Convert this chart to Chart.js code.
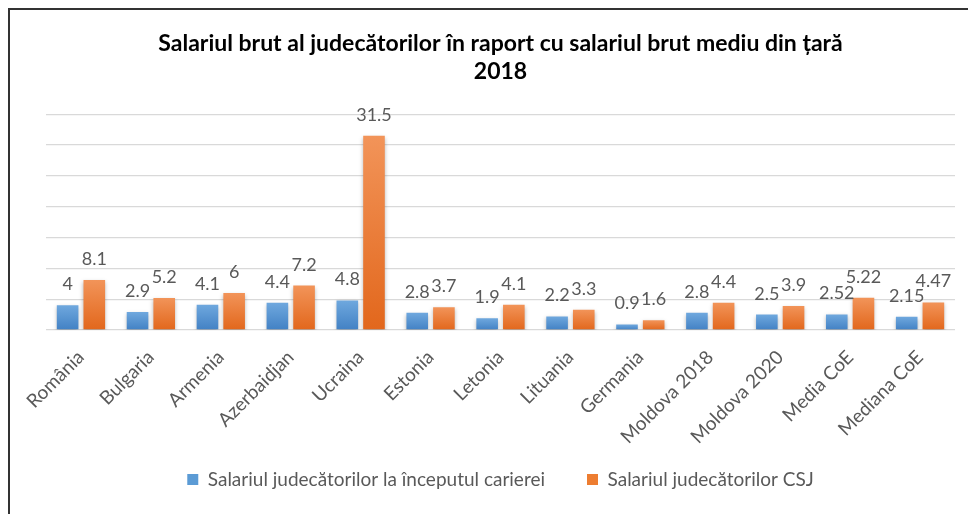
<!DOCTYPE html>
<html>
<head>
<meta charset="utf-8">
<script src="https://cdn.jsdelivr.net/npm/chart.js@4.4.1/dist/chart.umd.min.js"></script>
<style>
  html, body { margin: 0; padding: 0; background: #fff; overflow: hidden; }
  #wrap { position: relative; width: 968px; height: 514px; }
  #frame { position: absolute; left: 8px; top: 8px; width: 980px; height: 520px;
           border-top: 2px solid #333; border-left: 2px solid #333; pointer-events: none; }
  canvas { position: absolute; left: 0; top: 0; }
</style>
</head>
<body>
<div id="wrap">
  <canvas id="salary-chart" width="968" height="514"></canvas>
  <div id="frame"></div>
</div>
<script>

var countries = ["România", "Bulgaria", "Armenia", "Azerbaidjan", "Ucraina", "Estonia", "Letonia",
	"Lituania", "Germania", "Moldova 2018", "Moldova 2020", "Media CoE", "Mediana CoE"];

var startSalary = [4, 2.9, 4.1, 4.4, 4.8, 2.8, 1.9, 2.2, 0.9, 2.8, 2.5, 2.52, 2.15];
var csjSalary   = [8.1, 5.2, 6, 7.2, 31.5, 3.7, 4.1, 3.3, 1.6, 4.4, 3.9, 5.22, 4.47];

var seriesNames = ["Salariul judecătorilor la începutul carierei", "Salariul judecătorilor CSJ"];
var titleLines  = ["Salariul brut al judecătorilor în raport cu salariul brut mediu din țară", "2018"];

var FONT = "Lato";
var GREY = "#595959";

// per bar vertical gradient, lighter on top like the office style
function barGradient(ctx, top, bottom){

	var chart = ctx.chart;
	if (!chart.chartArea || ctx.raw === undefined) return bottom;

	var y  = chart.scales.y;
	var y0 = y.getPixelForValue(ctx.raw);
	var y1 = y.getPixelForValue(0);
	if (!isFinite(y0) || !isFinite(y1) || y0 === y1) return bottom;

	var g = chart.ctx.createLinearGradient(0, y0, 0, y1);
	g.addColorStop(0, top);
	g.addColorStop(1, bottom);
	return g;
}

// the rotated x labels run past the axis box into the legend space, don't clip them
var noLabelClip = {
	id: "noLabelClip",
	afterLayout: function(chart){
		chart.scales.x._computeLabelArea = function(){ return undefined; };
	}
};

var barShadow = {
	id: "barShadow",
	beforeDatasetsDraw: function(chart){
		var c = chart.ctx;
		c.save();
		c.shadowColor = "rgba(0,0,0,0.28)";
		c.shadowBlur = 4;
		c.shadowOffsetY = 2;
	},
	afterDatasetsDraw: function(chart){
		chart.ctx.restore();
	}
};

var valueLabels = {
	id: "valueLabels",
	afterDatasetsDraw: function(chart){
		var c = chart.ctx;
		c.save();
		c.font = "18px " + FONT;
		c.fillStyle = GREY;
		c.textAlign = "center";
		c.textBaseline = "alphabetic";
		chart.data.datasets.forEach(function(ds, i){
			chart.getDatasetMeta(i).data.forEach(function(bar, j){
				c.fillText(String(ds.data[j]), bar.x, bar.y - 15);
			});
		});
		c.restore();
	}
};

var ctx = document.getElementById("salary-chart");
var salaryChart = new Chart(ctx, {
	type: "bar",
	data: {
		labels: countries,
		datasets: [
		{
			label: seriesNames[0],
			data: startSalary,
			backgroundColor: function(c){ return barGradient(c, "#6fa8de", "#4281c4"); },
			borderWidth: 0,
			categoryPercentage: 0.763,
			barPercentage: 0.81
		},
		{
			label: seriesNames[1],
			data: csjSalary,
			backgroundColor: function(c){ return barGradient(c, "#f29459", "#e2671c"); },
			borderWidth: 0,
			categoryPercentage: 0.763,
			barPercentage: 0.81
		}
		]
	},
	plugins: [noLabelClip, barShadow, valueLabels],
	options: {
		responsive: false,
		animation: false,
		layout: {
			padding: { left: 46, right: 13, top: 0, bottom: 15 }
		},
		scales: {
			x: {
				grid: { display: false },
				border: { display: false },
				ticks: {
					color: GREY,
					font: { family: FONT, size: 19 },
					minRotation: 45,
					maxRotation: 45,
					padding: 8
				},
				afterFit: function(scale){ scale.height = 98; }
			},
			y: {
				min: 0,
				max: 35,
				ticks: { display: false, stepSize: 5 },
				grid: { color: "#d9d9d9", lineWidth: 1.3, drawTicks: false },
				border: { display: false },
				afterFit: function(scale){ scale.width = 0; }
			}
		},
		plugins: {
			title: {
				display: true,
				text: titleLines,
				color: "#000",
				font: { family: FONT, size: 23, weight: "bold", lineHeight: 1.2 },
				padding: { top: 30, bottom: 29 }
			},
			legend: {
				position: "bottom",
				labels: {
					color: GREY,
					font: { family: FONT, size: 19 },
					boxWidth: 11,
					boxHeight: 11,
					padding: 42,
					generateLabels: function(chart){
						var fills = ["#5b9bd5", "#ed7d31"];
						return chart.data.datasets.map(function(ds, i){
							return { text: ds.label, fillStyle: fills[i], strokeStyle: fills[i],
								lineWidth: 0, hidden: false, datasetIndex: i, fontColor: GREY };
						});
					}
				}
			},
			tooltip: { enabled: false }
		}
	}
});

</script>
</body>
</html>
